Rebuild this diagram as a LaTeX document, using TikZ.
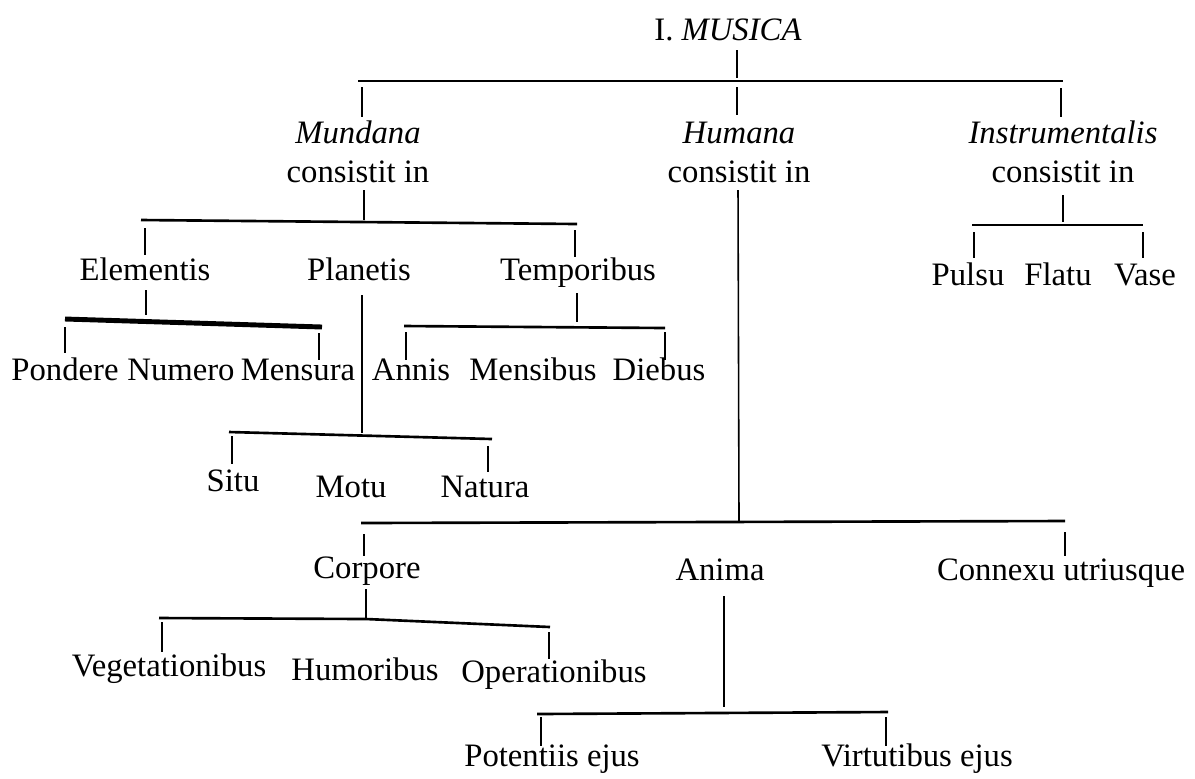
\documentclass[tikz,border=0pt]{standalone}
\usepackage{fontspec}
\setmainfont{Liberation Serif}
\begin{document}
\begin{tikzpicture}[x=0.01cm,y=-0.01cm,
  lbl/.style={inner sep=0pt,anchor=base,font=\fontsize{9.3}{11}\selectfont},
  ilbl/.style={lbl,font=\fontsize{9.3}{11}\selectfont\itshape},
  tick/.style={line width=0.45pt},
  bar/.style={line width=0.75pt},
  heavybar/.style={line width=1.4pt}]
\useasboundingbox (0,0) rectangle (1195,778);
% ---------- text nodes ----------
\node[lbl] (musica) at (728,40) {I. \textit{MUSICA}};
\node[ilbl] (mund) at (358,143) {Mundana};
\node[lbl] (mundc) at (358,182) {consistit in};
\node[ilbl] (hum) at (739,143) {Humana};
\node[lbl] (humc) at (739,182) {consistit in};
\node[ilbl] (instr) at (1063,143) {Instrumentalis};
\node[lbl] (instrc) at (1063,182) {consistit in};
\node[lbl] (elem) at (145,280) {Elementis};
\node[lbl] (plan) at (359,280) {Planetis};
\node[lbl] (temp) at (578,280) {Temporibus};
\node[lbl] (puls) at (968,285) {Pulsu};
\node[lbl] (flat) at (1058,285) {Flatu};
\node[lbl] (vase) at (1145,285) {Vase};
\node[lbl] (pond) at (65,380) {Pondere};
\node[lbl] (nume) at (181,380) {Numero};
\node[lbl] (mens) at (298,380) {Mensura};
\node[lbl] (anni) at (411,380) {Annis};
\node[lbl] (mensi) at (533,380) {Mensibus};
\node[lbl] (dieb) at (659,380) {Diebus};
\node[lbl] (situ) at (233,491) {Situ};
\node[lbl] (motu) at (351,497) {Motu};
\node[lbl] (natu) at (485,497) {Natura};
\node[lbl] (corp) at (367,578) {Corpore};
\node[lbl] (anim) at (720,580) {Anima};
\node[lbl] (conn) at (1061,580) {Connexu utriusque};
\node[lbl] (vege) at (169,676) {Vegetationibus};
\node[lbl] (humo) at (365,680) {Humoribus};
\node[lbl] (oper) at (554,682) {Operationibus};
\node[lbl] (pote) at (552,766) {Potentiis ejus};
\node[lbl] (virt) at (917,766) {Virtutibus ejus};
% ---------- junction coordinates ----------
% I. MUSICA
\coordinate (m0) at (737,50);   \coordinate (m1) at (737,78);
\coordinate (tbL) at (358,81);  \coordinate (tbR) at (1063,81);
\coordinate (t1a) at (362,87);  \coordinate (t1b) at (362,117);
\coordinate (t2a) at (737,87);  \coordinate (t2b) at (737,115);
\coordinate (t3a) at (1061,88); \coordinate (t3b) at (1061,117);
% Mundana
\coordinate (md0) at (364,190); \coordinate (md1) at (364,220);
\coordinate (mbL) at (141,220); \coordinate (mbR) at (577,224);
\coordinate (me0) at (145,228); \coordinate (me1) at (145,255);
\coordinate (mt0) at (575,230); \coordinate (mt1) at (575,257);
% Elementis
\coordinate (ed0) at (146,290); \coordinate (ed1) at (146,315);
\coordinate (ebL) at (65,319);  \coordinate (ebR) at (322,327);
\coordinate (ep0) at (65,327);  \coordinate (ep1) at (65,353);
\coordinate (em0) at (319,333); \coordinate (em1) at (319,360);
% Planetis
\coordinate (pd0) at (362,295); \coordinate (pd1) at (362,433);
\coordinate (pbL) at (229,432); \coordinate (pbR) at (492,439);
\coordinate (ps0) at (232,436); \coordinate (ps1) at (232,464);
\coordinate (pn0) at (488,446); \coordinate (pn1) at (488,472);
% Temporibus
\coordinate (td0) at (577,293); \coordinate (td1) at (577,322);
\coordinate (tmL) at (404,326); \coordinate (tmR) at (665,328);
\coordinate (ta0) at (406,332); \coordinate (ta1) at (406,360);
\coordinate (tdb0) at (665,332);\coordinate (tdb1) at (665,360);
% Instrumentalis
\coordinate (id0) at (1063,195); \coordinate (id1) at (1063,222);
\coordinate (ibL) at (972,225);  \coordinate (ibR) at (1143,225);
\coordinate (ip0) at (974,232);  \coordinate (ip1) at (974,258);
\coordinate (iv0) at (1143,232); \coordinate (iv1) at (1143,258);
% Humana
\coordinate (hd0) at (738,190); \coordinate (hd1) at (739,522);
\coordinate (hbL) at (361,523); \coordinate (hbR) at (1065,521);
\coordinate (hc0) at (364,534); \coordinate (hc1) at (364,556);
\coordinate (hx0) at (1065,532);\coordinate (hx1) at (1065,556);
% Corpore
\coordinate (cd0) at (366,589); \coordinate (cd1) at (366,619);
\coordinate (cbL) at (159,618); \coordinate (cbM) at (366,619); \coordinate (cbR) at (550,627);
\coordinate (cv0) at (162,622); \coordinate (cv1) at (162,652);
\coordinate (co0) at (549,632); \coordinate (co1) at (549,659);
% Anima
\coordinate (ad0) at (724,596); \coordinate (ad1) at (724,707);
\coordinate (abL) at (537,714); \coordinate (abR) at (888,712);
\coordinate (ap0) at (541,717); \coordinate (ap1) at (541,746);
\coordinate (av0) at (886,717); \coordinate (av1) at (886,746);
% ---------- connectors ----------
\draw[tick] (m0) -- (m1);
\draw[bar] (tbL) -- (tbR);
\draw[tick] (t1a) -- (t1b);
\draw[tick] (t2a) -- (t2b);
\draw[tick] (t3a) -- (t3b);
\draw[tick] (md0) -- (md1);
\draw[bar] (mbL) -- (mbR);
\draw[tick] (me0) -- (me1);
\draw[tick] (mt0) -- (mt1);
\draw[tick] (ed0) -- (ed1);
\draw[heavybar] (ebL) -- (ebR);
\draw[tick] (ep0) -- (ep1);
\draw[tick] (em0) -- (em1);
\draw[tick] (pd0) -- (pd1);
\draw[bar] (pbL) -- (pbR);
\draw[tick] (ps0) -- (ps1);
\draw[tick] (pn0) -- (pn1);
\draw[tick] (td0) -- (td1);
\draw[bar] (tmL) -- (tmR);
\draw[tick] (ta0) -- (ta1);
\draw[tick] (tdb0) -- (tdb1);
\draw[tick] (id0) -- (id1);
\draw[bar] (ibL) -- (ibR);
\draw[tick] (ip0) -- (ip1);
\draw[tick] (iv0) -- (iv1);
\draw[tick] (hd0) -- (hd1);
\draw[bar] (hbL) -- (hbR);
\draw[tick] (hc0) -- (hc1);
\draw[tick] (hx0) -- (hx1);
\draw[tick] (cd0) -- (cd1);
\draw[bar] (cbL) -- (cbM) -- (cbR);
\draw[tick] (cv0) -- (cv1);
\draw[tick] (co0) -- (co1);
\draw[tick] (ad0) -- (ad1);
\draw[bar] (abL) -- (abR);
\draw[tick] (ap0) -- (ap1);
\draw[tick] (av0) -- (av1);
\end{tikzpicture}
\end{document}
